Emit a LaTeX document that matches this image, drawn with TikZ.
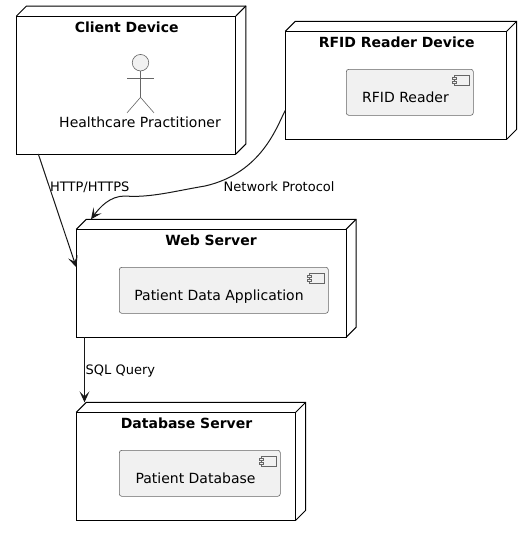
\documentclass[tikz,border=0pt]{standalone}
\usepackage{fontspec}
\setmainfont{DejaVu Sans}
\usetikzlibrary{arrows.meta,calc}
\definecolor{umlink}{HTML}{181818}
\definecolor{umlsoft}{HTML}{666666}
\definecolor{umlfill}{HTML}{F1F1F1}
\tikzset{
  devbox/.style={draw=black,line width=1pt,fill=white,inner sep=0pt,outer sep=0pt},
  devline/.style={draw=black,line width=1pt,line join=miter},
  devtitle/.style={font=\bfseries\fontsize{14}{16}\selectfont,text=black,inner sep=0pt,anchor=base},
  compbox/.style={draw=umlsoft,line width=0.6pt,fill=umlfill,rounded corners=2.5pt,inner sep=0pt,outer sep=0pt,font=\fontsize{14}{16}\selectfont,text=black},
  iconline/.style={draw=umlsoft,line width=0.6pt,fill=umlfill},
  actorline/.style={draw=umlsoft,line width=0.6pt},
  flow/.style={draw=umlink,line width=1pt,-{Stealth[length=11pt,width=10pt,inset=5pt]}},
  flowlabel/.style={font=\fontsize{13}{15}\selectfont,text=black,inner sep=0pt,anchor=base west}
}
\newcommand{\devdepth}[1]{%
  \draw[devline] (#1.north west) -- ++(10,-10) -- ($(#1.north east)+(10,-10)$) -- ($(#1.south east)+(10,-10)$) -- (#1.south east);
  \draw[devline] (#1.north east) -- ++(10,-10);
}
\newcommand{\compicon}[1]{%
  \draw[iconline] ($(#1.north east)+(-19.5,5.7)$) rectangle ($(#1.north east)+(-4.3,15.7)$);
  \draw[iconline] ($(#1.north east)+(-21.5,8)$) rectangle ($(#1.north east)+(-17.5,10)$);
  \draw[iconline] ($(#1.north east)+(-21.5,11.5)$) rectangle ($(#1.north east)+(-17.5,13.5)$);
}
\newcommand{\comptext}[2]{\smash{\raisebox{-10.2pt}{#2}}\kern#1\relax}
\begin{document}
\begin{tikzpicture}[x=1pt,y=-1pt]
\useasboundingbox (0,0) rectangle (532,536);
% Client device
\node[devbox,minimum width=219.4pt,minimum height=138pt] (client) at (126.2,85) {};
\devdepth{client}
\node[devtitle] (clienttitle) at (126.7,32) {Client Device};
\node[circle,draw=umlsoft,line width=0.6pt,fill=umlfill,minimum size=16.5pt,inner sep=0pt,outer sep=0pt] (head) at (140.5,62.7) {};
\coordinate (hip) at ($(head.south)+(0,26.4)$);
\draw[actorline] (head.south) -- (hip);
\draw[actorline] ($(head.south)+(-13.5,7.3)$) -- ($(head.south)+(13.5,7.3)$);
\draw[actorline] ($(hip)+(-13.5,15.5)$) -- (hip) -- ($(hip)+(13.5,15.5)$);
\node[font=\fontsize{14}{16}\selectfont,text=black,inner sep=0pt,anchor=base] (actorname) at (140,127) {Healthcare Practitioner};
% RFID device
\node[devbox,minimum width=221.4pt,minimum height=108pt] (rfiddev) at (396,85.3) {};
\devdepth{rfiddev}
\node[devtitle] (rfidtitle) at (396.7,47) {RFID Reader Device};
\node[compbox,minimum width=127pt,minimum height=46pt] (rfid) at (409.8,92.3) {\comptext{8.6pt}{RFID Reader}};
\compicon{rfid}
% Web server
\node[devbox,minimum width=269.7pt,minimum height=108pt] (web) at (211.15,283.3) {};
\devdepth{web}
\node[devtitle] (webtitle) at (211,245) {Web Server};
\node[compbox,minimum width=209pt,minimum height=46pt] (app) at (223.8,290.3) {\comptext{9.6pt}{Patient Data Application}};
\compicon{app}
% Database server
\node[devbox,minimum width=219.4pt,minimum height=108pt] (db) at (186,466.3) {};
\devdepth{db}
\node[devtitle] (dbtitle) at (186.5,428) {Database Server};
\node[compbox,minimum width=161pt,minimum height=46pt] (patdb) at (199.8,473.3) {\comptext{8.6pt}{Patient Database}};
\compicon{patdb}
% Connectors
\draw[flow] ([xshift=21.8pt]client.south west) -- ([yshift=16pt]web.west);
\draw[flow] ([yshift=-25pt]rfiddev.west) .. controls (277,126) and (262,173) .. (205,186) .. controls (175,191) and (150,198) .. (125,196) .. controls (110,196) and (100,207) .. ([xshift=14.7pt,yshift=10pt]web.north west);
\draw[flow] ([xshift=8.2pt]web.south west) -- ([xshift=8.2pt,yshift=10pt]db.north west);
\node[flowlabel] (l1) at (50,191) {HTTP/HTTPS};
\node[flowlabel] (l2) at (223.5,191) {Network Protocol};
\node[flowlabel] (l3) at (85.5,374) {SQL Query};
\end{tikzpicture}
\end{document}
